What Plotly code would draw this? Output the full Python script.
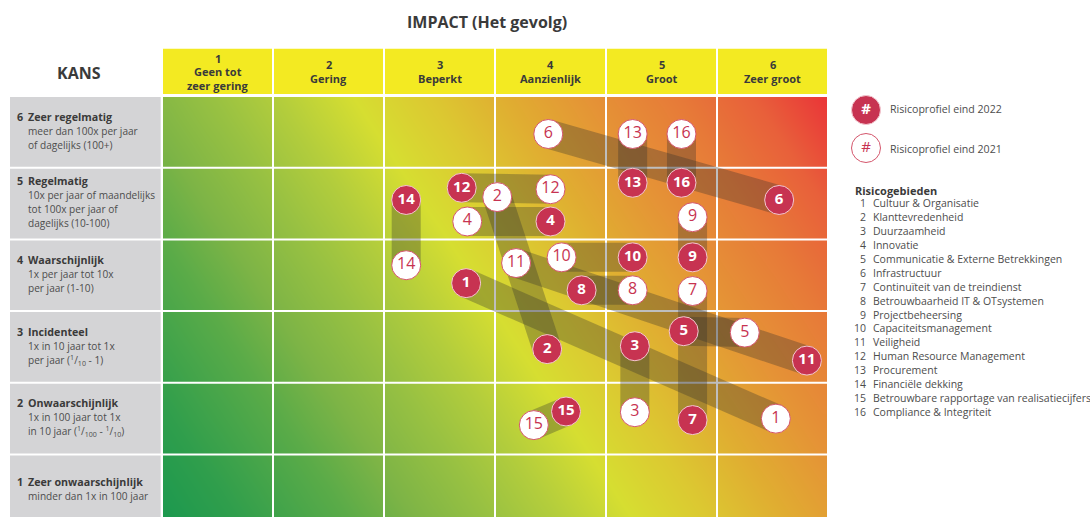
import numpy as np
import plotly.graph_objects as go

# ---------------- data ----------------
impact_labels = [["1", "Geen tot", "zeer gering"], ["2", "Gering"], ["3", "Beperkt"],
                 ["4", "Aanzienlijk"], ["5", "Groot"], ["6", "Zeer groot"]]

kans_levels = [1, 2, 3, 4, 5, 6]
kans_titles = ["Zeer onwaarschijnlijk", "Onwaarschijnlijk", "Incidenteel",
               "Waarschijnlijk", "Regelmatig", "Zeer regelmatig"]
kans_desc = [
    ["minder dan 1x in 100 jaar"],
    ["1x in 100 jaar tot 1x", "in 10 jaar (<sup>1</sup>/<sub>100</sub> - <sup>1</sup>/<sub>10</sub>)"],
    ["1x in 10 jaar tot 1x", "per jaar (<sup>1</sup>/<sub>10</sub> - 1)"],
    ["1x per jaar tot 10x", "per jaar (1-10)"],
    ["10x per jaar of maandelijks", "tot 100x per jaar of", "dagelijks (10-100)"],
    ["meer dan 100x per jaar", "of dagelijks (100+)"],
]

risk_ids = list(range(1, 17))
risk_names = ["Cultuur & Organisatie", "Klanttevredenheid", "Duurzaamheid", "Innovatie",
              "Communicatie & Externe Betrekkingen", "Infrastructuur",
              "Continuïteit van de treindienst", "Betrouwbaarheid IT & OTsystemen",
              "Projectbeheersing", "Capaciteitsmanagement", "Veiligheid",
              "Human Resource Management", "Procurement", "Financiële dekking",
              "Betrouwbare rapportage van realisatiecijfers", "Compliance & Integriteit"]

# position in matrix: impact (x), kans (y)
impact_2022 = [3.24, 3.97, 4.76, 4.00, 5.20, 6.06, 5.28, 4.28, 5.28, 4.74, 6.31, 3.20, 4.74, 2.70, 4.14, 5.18]
kans_2022   = [3.89, 2.97, 3.01, 4.75, 3.22, 5.05, 1.98, 3.79, 4.25, 4.25, 2.81, 5.22, 5.29, 5.05, 2.10, 5.29]
impact_2021 = [6.03, 3.52, 4.76, 3.25, 5.75, 3.98, 5.28, 4.74, 5.28, 4.10, 3.69, 4.00, 4.74, 2.70, 3.85, 5.18]
kans_2021   = [2.00, 5.09, 2.09, 4.75, 3.20, 5.97, 3.78, 3.79, 4.81, 4.25, 4.17, 5.20, 5.97, 4.14, 1.91, 5.97]

legend_labels = ["Risicoprofiel eind 2022", "Risicoprofiel eind 2021"]

# ---------------- style / geometry ----------------
W, H = 1090, 517
GX0, COLW = 162.0, 111.0      # pixel x of left grid edge, column width
GY0, ROWH = 96.0, 71.7        # pixel y of top grid edge, row height
FONT = "Open Sans"
CRIMSON = "#c73351"
DARK = "#3a3a3a"
MID = "#4d4d4d"


def X(px):
    return 0.5 + (px - GX0) / COLW


def Y(py):
    return 6.5 - (py - GY0) / ROWH


def PY(y):
    return GY0 + (6.5 - y) * ROWH


fig = go.Figure()

# background gradient (style only)
N = 60
xe = np.linspace(0.5, 6.5, N + 1)
ye = np.linspace(0.5, 6.5, N + 1)
xc = (xe[:-1] + xe[1:]) / 2
yc = (ye[:-1] + ye[1:]) / 2
u = (xc - 0.5) / 6
v = (yc - 0.5) / 6
Z = 0.7 * u[None, :] + 0.3 * v[:, None]
cscale = [[0.00, "#1a984f"], [0.083, "#2f9e4c"], [0.20, "#5aab48"], [0.27, "#7db446"],
          [0.35, "#98c142"], [0.42, "#b3cd3c"], [0.50, "#d6de31"], [0.58, "#dcc831"],
          [0.66, "#e0ad31"], [0.75, "#e59236"], [0.84, "#e77a38"], [0.92, "#e8603a"],
          [1.00, "#ea3338"]]
fig.add_trace(go.Heatmap(x=xe, y=ye, z=Z, colorscale=cscale, zmin=0, zmax=1,
                         zsmooth="best", showscale=False, hoverinfo="skip"))

# white cell separators
gx, gy = [], []
for k in range(7):
    gx += [k + 0.5, k + 0.5, None]
    gy += [0.0, 6.5, None]
for k in range(1, 7):
    gx += [0.5, 6.5, None]
    gy += [k + 0.5, k + 0.5, None]
fig.add_trace(go.Scatter(x=gx, y=gy, mode="lines", line=dict(color="white", width=2),
                         hoverinfo="skip"))

# movement bands 2021 -> 2022
for i in range(len(risk_ids)):
    fig.add_trace(go.Scatter(x=[impact_2021[i], impact_2022[i]], y=[kans_2021[i], kans_2022[i]],
                             mode="lines", line=dict(color="rgba(45,45,45,0.31)", width=29),
                             hoverinfo="skip"))

# 2021 bubbles
fig.add_trace(go.Scatter(x=impact_2021, y=kans_2021, mode="markers+text",
                         text=[str(r) for r in risk_ids], textposition="middle center",
                         textfont=dict(family=FONT, size=16, color=CRIMSON),
                         marker=dict(size=29, color="white", line=dict(color="#d4566c", width=1)),
                         hoverinfo="skip"))
# 2022 bubbles
fig.add_trace(go.Scatter(x=impact_2022, y=kans_2022, mode="markers+text",
                         text=[str(r) for r in risk_ids], textposition="middle center",
                         textfont=dict(family=FONT, size=15, color="white", weight="bold"),
                         marker=dict(size=29, color=CRIMSON, line=dict(color="#f3c9d1", width=1)),
                         hoverinfo="skip"))

# legend symbols
fig.add_trace(go.Scatter(x=[X(866)], y=[Y(110)], mode="markers+text", text=["#"],
                         textposition="middle center",
                         textfont=dict(family=FONT, size=15, color="white", weight="bold"),
                         marker=dict(size=29, color=CRIMSON, line=dict(color="#f3c9d1", width=1)),
                         hoverinfo="skip"))
fig.add_trace(go.Scatter(x=[X(866)], y=[Y(148)], mode="markers+text", text=["#"],
                         textposition="middle center",
                         textfont=dict(family=FONT, size=15, color=CRIMSON),
                         marker=dict(size=29, color="white", line=dict(color="#d4566c", width=1)),
                         hoverinfo="skip"))

shapes = []
anns = []


def txt(px, py, s, size=10.5, color=MID, bold=False, anchor="left"):
    anns.append(dict(x=X(px), y=Y(py), xref="x", yref="y", text=s, showarrow=False,
                     xanchor=anchor, yanchor="middle",
                     font=dict(family=FONT, size=size, color=color,
                               weight="bold" if bold else "normal")))


# header cells
for c in range(1, 7):
    shapes.append(dict(type="rect", xref="x", yref="y", x0=c - 0.5 + 1 / COLW, x1=c + 0.5 - 1 / COLW,
                       y0=Y(94), y1=Y(48.7), fillcolor="#f3ea22", line=dict(width=0), layer="below"))
    lines = impact_labels[c - 1]
    n = len(lines)
    for i, s in enumerate(lines):
        py = 71.5 + (i - (n - 1) / 2) * 13.5
        txt(GX0 + (c - 0.5) * COLW, py, s, size=11, color=DARK, bold=True, anchor="center")

# kans label cells
for r, title, desc in zip(kans_levels, kans_titles, kans_desc):
    shapes.append(dict(type="rect", xref="x", yref="y", x0=X(10), x1=X(160.7),
                       y0=max(r - 0.5 + 1 / ROWH, Y(H + 5)), y1=r + 0.5 - 1 / ROWH,
                       fillcolor="#d4d4d6", line=dict(width=0), layer="below"))
    lines = [title] + desc
    n = len(lines)
    cy = PY(r) - 1.2
    for i, s in enumerate(lines):
        py = cy + (i - (n - 1) / 2) * 14
        if i == 0:
            txt(15, py, str(r), size=10.7, color=DARK, bold=True)
            txt(25.5, py, s, size=10.7, color=DARK, bold=True)
        else:
            txt(25.5, py, s, size=10.1, color=MID)

# titles
txt(487, 22, "IMPACT (Het gevolg)", size=16, color=DARK, bold=True, anchor="center")
txt(79, 73, "KANS", size=16, color=DARK, bold=True, anchor="center")

# legend text
txt(888, 109, legend_labels[0], size=10.6, color=MID)
txt(888, 149, legend_labels[1], size=10.6, color=MID)
txt(853, 190, "Risicogebieden", size=11, color=DARK, bold=True)
for i, (rid, name) in enumerate(zip(risk_ids, risk_names)):
    py = 203.3 + i * 13.9
    txt(868, py, str(rid), size=10.5, color=MID, anchor="right")
    txt(871, py, name, size=10.5, color=MID)

fig.update_layout(
    width=W, height=H, margin=dict(l=0, r=0, t=0, b=0),
    paper_bgcolor="white", plot_bgcolor="white", showlegend=False,
    xaxis=dict(range=[X(0), X(W)], visible=False, fixedrange=True),
    yaxis=dict(range=[Y(H), Y(0)], visible=False, fixedrange=True),
    shapes=shapes, annotations=anns,
)

fig.write_html("out.html", config={"displayModeBar": False},
               post_script="document.body.style.margin='0';document.body.style.overflow='hidden';")
